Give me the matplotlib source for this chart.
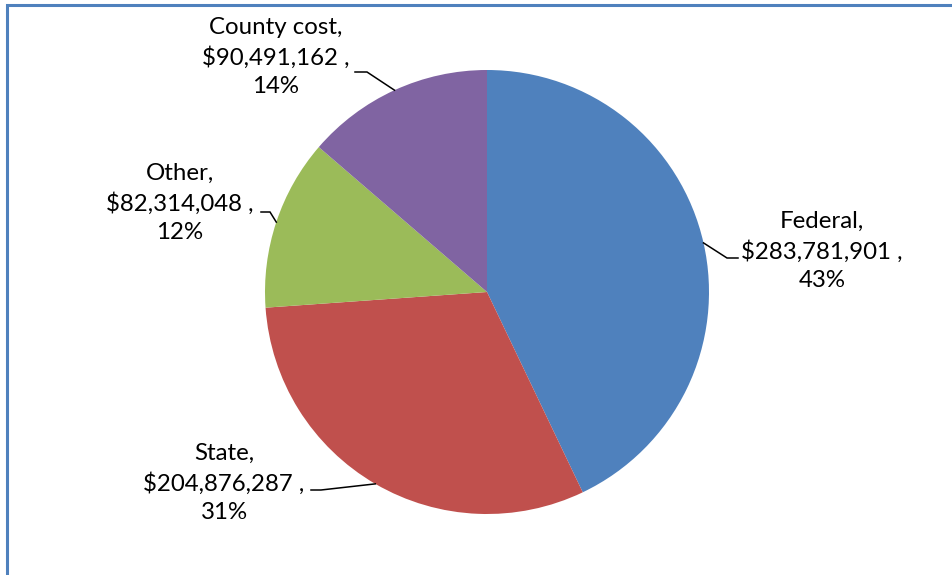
import numpy as np
import matplotlib
matplotlib.use("Agg")
import matplotlib.pyplot as plt
from matplotlib.patches import Rectangle

# Funding sources, drawn clockwise from 12 o'clock
categories = ["Federal", "State", "Other", "County cost"]
amounts = [283781901, 204876287, 82314048, 90491162]
colors = ["#4F81BD", "#C0504D", "#9BBB59", "#8064A2"]

W, H = 952, 575
fig = plt.figure(figsize=(W / 100, H / 100), dpi=100)
ax = fig.add_axes([0, 0, 1, 1])

cx, cy, r = 487, 292, 222

# pie drawn in a y-down space: counterclock=True here renders clockwise on screen
wedges, _ = ax.pie(amounts, colors=colors, startangle=-90, counterclock=True,
                   center=(cx, cy), radius=r, frame=True,
                   wedgeprops=dict(linewidth=0))
ax.set_xlim(0, W)
ax.set_ylim(H, 0)
ax.axis("off")

total = sum(amounts)
# label block centre (x, y of middle line) and leader kink / end points
label_layout = {
    "Federal": dict(text=(822, 251), kink=(727, 258), end=(738, 258)),
    "State": dict(text=(224, 483), kink=(321, 490), end=(311, 490)),
    "Other": dict(text=(180, 203), kink=(270, 212), end=(261, 212)),
    "County cost": dict(text=(276, 57), kink=(367, 72), end=(355, 72)),
}

for w, cat, amt in zip(wedges, categories, amounts):
    mid = np.deg2rad((w.theta1 + w.theta2) / 2)
    ex, ey = cx + r * np.cos(mid), cy + r * np.sin(mid)
    lay = label_layout[cat]
    pct = round(100 * amt / total)
    label = f"{cat},\n${amt:,} ,\n{pct}%"
    tx, ty = lay["text"]
    ax.text(tx, ty, label, ha="center", va="center", fontsize=17.3,
            family="Lato", linespacing=1.45, color="#000000")
    kx, ky = lay["kink"]
    nx, ny = lay["end"]
    ax.plot([ex, kx, nx], [ey, ky, ny], color="black", lw=1.1,
            solid_joinstyle="miter")

# chart-area frame
fig.patches.append(Rectangle((6.5 / W, -0.2), 2.0, 1.2 - 4.5 / H,
                             transform=fig.transFigure, fill=False,
                             edgecolor="#4F81BD", lw=2.2, clip_on=False))

fig.savefig("out.png", dpi=100, facecolor="white")
